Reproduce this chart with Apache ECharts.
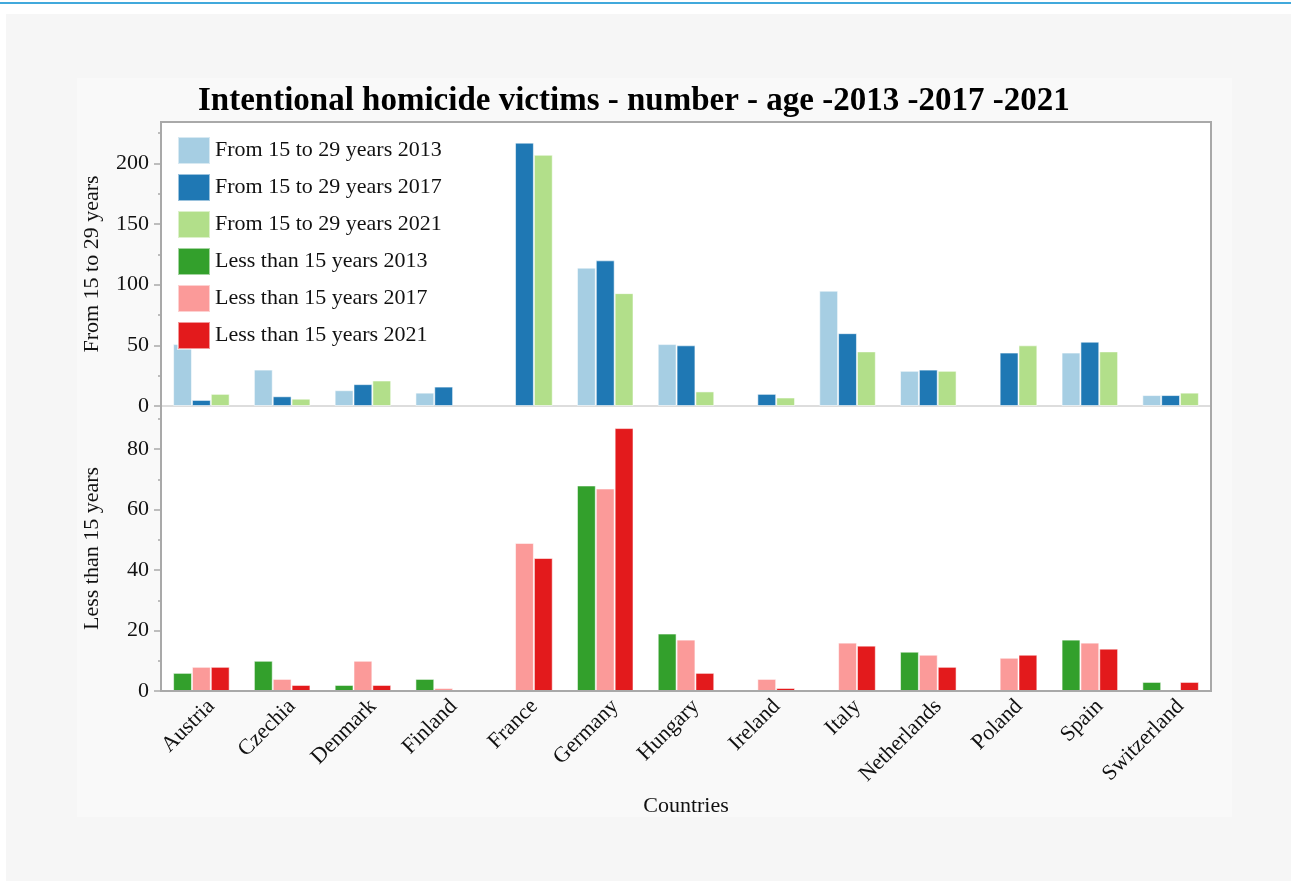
<!DOCTYPE html>
<html>
<head>
<meta charset="utf-8">
<script src="https://cdn.jsdelivr.net/npm/echarts@6/dist/echarts.min.js"></script>
<style>
  html, body { margin: 0; padding: 0; background: #ffffff; }
  #topRule { position: absolute; left: 0; top: 2px; width: 1291px; height: 2px; background: #41a9dc; }
  #outer { position: absolute; left: 6px; top: 14px; width: 1285px; height: 867px; background: #f6f6f6; }
  #inner { position: absolute; left: 77px; top: 78px; width: 1155px; height: 739px; background: #f9f9f9; }
  #chart { position: absolute; left: 0; top: 0; width: 1291px; height: 882px; }
</style>
</head>
<body>
<div id="topRule"></div>
<div id="outer"></div>
<div id="inner"></div>
<div id="chart"></div>
<script>
// Countries along the shared category axis
const countries = ['Austria', 'Czechia', 'Denmark', 'Finland', 'France', 'Germany',
  'Hungary', 'Ireland', 'Italy', 'Netherlands', 'Poland', 'Spain', 'Switzerland'];

// Victims aged 15 to 29 (upper panel)
const youth2013 = [51, 30, 13, 11, null, 114, 51, null, 95, 29, null, 44, 9];
const youth2017 = [5, 8, 18, 16, 217, 120, 50, 10, 60, 30, 44, 53, 9];
const youth2021 = [10, 6, 21, null, 207, 93, 12, 7, 45, 29, 50, 45, 11];

// Victims aged under 15 (lower panel)
const child2013 = [6, 10, 2, 4, null, 68, 19, null, null, 13, null, 17, 3];
const child2017 = [8, 4, 10, 1, 49, 67, 17, 4, 16, 12, 11, 16, null];
const child2021 = [8, 2, 2, null, 44, 87, 6, 1, 15, 8, 12, 14, 3];

// Axis tick positions
const youthMajorTicks = [0, 50, 100, 150, 200];
const youthMinorTicks = [25, 75, 125, 175, 225];
const childMajorTicks = [0, 20, 40, 60, 80];
const childMinorTicks = [10, 30, 50, 70, 90];

const serif = "'Liberation Serif', 'Times New Roman', serif";
const axisGray = '#a9a9a9';
const textColor = '#111111';

const chart = echarts.init(document.getElementById('chart'), null, { renderer: 'canvas' });

function valueAxis(gridIndex, max, ticks, name, withLabels) {
  return {
    type: 'value',
    gridIndex: gridIndex,
    position: 'left',
    min: 0,
    max: max,
    name: withLabels ? name : '',
    nameLocation: 'middle',
    nameGap: 58,
    nameTextStyle: { fontFamily: serif, fontSize: 22, color: textColor },
    axisLine: { show: withLabels, lineStyle: { color: axisGray, width: 2 } },
    axisTick: { show: true, customValues: ticks, length: withLabels ? 7 : 3,
      lineStyle: { color: axisGray, width: 1.5 } },
    axisLabel: withLabels
      ? { show: true, customValues: ticks, margin: 12, fontFamily: serif, fontSize: 22, color: textColor }
      : { show: false },
    splitLine: { show: false }
  };
}

const barBorder = { borderColor: 'rgba(255,255,255,0.55)', borderWidth: 1 };

function barSeries(name, data, color, axisIndex) {
  return {
    name: name,
    type: 'bar',
    xAxisIndex: axisIndex,
    yAxisIndex: axisIndex === 0 ? 0 : 2,
    data: data,
    barGap: '0%',
    barCategoryGap: '30%',
    itemStyle: Object.assign({ color: color }, barBorder),
    emphasis: { disabled: true }
  };
}

const option = {
  animation: false,
  backgroundColor: 'transparent',
  title: {
    text: 'Intentional homicide victims - number - age -2013 -2017 -2021',
    left: 193,
    top: 80,
    textStyle: { fontFamily: serif, fontWeight: 'bold', fontSize: 33, color: '#000' }
  },
  legend: {
    orient: 'vertical',
    left: 172,
    top: 131,
    itemWidth: 32,
    itemHeight: 27,
    itemGap: 8,
    icon: 'rect',
    textStyle: { fontFamily: serif, fontSize: 22, color: textColor },
    selectedMode: false
  },
  grid: [
    { left: 161, right: 80, top: 122, height: 284, show: true, backgroundColor: '#ffffff', borderWidth: 0 },
    { left: 161, right: 80, top: 406, height: 285, show: true, backgroundColor: '#ffffff', borderWidth: 0 },
    { left: 161, right: 80, top: 122, height: 569, show: true, backgroundColor: 'transparent',
      borderColor: axisGray, borderWidth: 2, z: 5 }
  ],
  xAxis: [
    {
      type: 'category', gridIndex: 0, data: countries,
      axisLine: { show: true, lineStyle: { color: '#dddddd', width: 2 } },
      axisTick: { show: false }, axisLabel: { show: false }
    },
    {
      type: 'category', gridIndex: 1, data: countries,
      name: 'Countries', nameLocation: 'middle', nameGap: 104,
      nameTextStyle: { fontFamily: serif, fontSize: 22, color: textColor },
      axisLine: { show: true, lineStyle: { color: axisGray, width: 2 } },
      axisTick: { show: false },
      axisLabel: { interval: 0, rotate: 45, margin: 22, padding: [0, -14, 0, 0],
        fontFamily: serif, fontSize: 22, color: textColor }
    }
  ],
  yAxis: [
    valueAxis(0, 234, youthMajorTicks, 'From 15 to 29 years', true),
    valueAxis(0, 234, youthMinorTicks, '', false),
    valueAxis(1, 94.3, childMajorTicks, 'Less than 15 years', true),
    valueAxis(1, 94.3, childMinorTicks, '', false)
  ],
  series: [
    barSeries('From 15 to 29 years 2013', youth2013, '#a6cee3', 0),
    barSeries('From 15 to 29 years 2017', youth2017, '#1f78b4', 0),
    barSeries('From 15 to 29 years 2021', youth2021, '#b2df8a', 0),
    barSeries('Less than 15 years 2013', child2013, '#33a02c', 1),
    barSeries('Less than 15 years 2017', child2017, '#fb9a99', 1),
    barSeries('Less than 15 years 2021', child2021, '#e31a1c', 1)
  ]
};

chart.setOption(option);
</script>
</body>
</html>
